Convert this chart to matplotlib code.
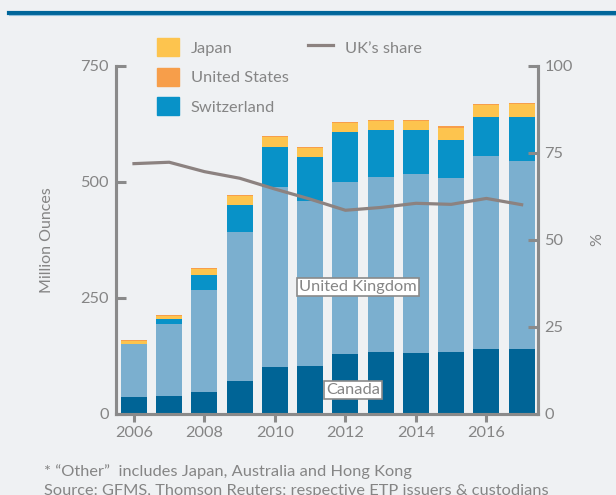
import numpy as np
import matplotlib
matplotlib.use('Agg')
import matplotlib.pyplot as plt
from matplotlib.patches import Patch
from matplotlib.lines import Line2D

# data (million ounces, stacked bottom -> top)
years = [2006, 2007, 2008, 2009, 2010, 2011, 2012, 2013, 2014, 2015, 2016, 2017]
canada = [36, 38, 47, 70, 101, 103, 129, 133, 131, 133, 139, 139]
united_kingdom = [113, 154, 220, 322, 388, 355, 370, 377, 386, 375, 415, 406]
switzerland = [1, 11, 32, 58, 86, 95, 107, 100, 93, 82, 86, 93]
japan = [7, 8, 13, 19, 21, 20, 21, 21, 21, 26, 24, 28]
united_states = [1, 1, 1, 1, 2, 2, 1, 2, 2, 3, 4, 4]
uk_share = [71.8, 72.2, 69.5, 67.6, 64.5, 61.6, 58.4, 59.2, 60.4, 60.1, 61.8, 60.0]

left_ticks = [0, 250, 500, 750]
right_ticks = [0, 25, 50, 75, 100]
x_ticks = [2006, 2008, 2010, 2012, 2014, 2016]

# colours
BG = '#eff1f3'
GREY = '#8a8a8a'
TEXT = '#858585'
C_CANADA = '#006496'
C_UK = '#7bafcf'
C_SWISS = '#0892c8'
C_JAPAN = '#fdc44e'
C_US = '#f79e4a'
C_LINE = '#8c8280'

FS = 11.8
plt.rcParams['font.family'] = ['Lato', 'DejaVu Sans']
plt.rcParams['font.size'] = FS

W, H = 616, 495
fig = plt.figure(figsize=(W / 100, H / 100), dpi=100, facecolor=BG)
ax = fig.add_axes([116 / W, 1 - 413.5 / H, (537.5 - 116) / W, (413.5 - 65.5) / H])
ax.set_facecolor(BG)

x = np.array(years)
bw = 0.74
bottom = np.zeros(len(years))
for vals, col in [(canada, C_CANADA), (united_kingdom, C_UK), (switzerland, C_SWISS),
                  (japan, C_JAPAN), (united_states, C_US)]:
    ax.bar(x, vals, bw, bottom=bottom, color=col, linewidth=0, zorder=2)
    bottom = bottom + np.array(vals)

ax.set_xlim(2005.49, 2017.45)
ax.set_ylim(0, 750)
ax.set_yticks(left_ticks)
ax.set_xticks(x_ticks)

ax2 = ax.twinx()
ax2.plot(x, uk_share, color=C_LINE, linewidth=2.3, zorder=3)
ax2.set_ylim(0, 100)
ax2.set_yticks(right_ticks)

## Lines
for a in (ax, ax2):
    a.spines['top'].set_visible(False)
    for s in ('left', 'right', 'bottom'):
        a.spines[s].set_color(GREY)
        a.spines[s].set_linewidth(2.2)
ax.tick_params(axis='y', direction='in', length=7, width=2.2, color=GREY,
               labelcolor=TEXT, labelsize=FS, pad=5)
ax.tick_params(axis='x', direction='out', length=6, width=2.2, color=GREY,
               labelcolor=TEXT, labelsize=FS, pad=3)
ax2.tick_params(axis='y', direction='in', length=7, width=2.2, color=GREY,
                labelcolor=TEXT, labelsize=FS, pad=5)

## Axis labels
fig.text(47 / W, 1 - 240 / H, 'Million Ounces', rotation=90, ha='center', va='center',
         color=TEXT, fontsize=11.5)
fig.text(597 / W, 1 - 240 / H, '%', rotation=90, ha='center', va='center',
         color=TEXT, fontsize=11.5)

## Labels inside bars
box = dict(boxstyle='square,pad=0.12', facecolor='white', edgecolor=GREY, linewidth=1.2)
ax.text(2012.36, 272, 'United Kingdom', ha='center', va='center', color=TEXT,
        fontsize=FS, bbox=box, zorder=5)
ax.text(2012.22, 51, 'Canada', ha='center', va='center', color=TEXT,
        fontsize=FS, bbox=box, zorder=5)

## Legends
handles = [Patch(color=C_JAPAN), Patch(color=C_US), Patch(color=C_SWISS)]
fig.legend(handles, ['Japan', 'United States', 'Switzerland'],
           loc='upper left', bbox_to_anchor=(157 / W, 1 - 38 / H),
           frameon=False, borderpad=0, borderaxespad=0, handlelength=1.35,
           handleheight=1.35, labelspacing=0.68, handletextpad=0.7,
           fontsize=FS, labelcolor=TEXT)
fig.legend([Line2D([0], [0], color=C_LINE, linewidth=2.3)], ["UK\u2019s share"],
           loc='upper left', bbox_to_anchor=(308 / W, 1 - 38 / H),
           frameon=False, borderpad=0, borderaxespad=0, handlelength=1.5,
           handleheight=1.35, handletextpad=0.75, fontsize=FS, labelcolor=TEXT)

## Header rule and footnotes
fig.add_artist(Line2D([9 / W, 1], [1 - 12.5 / H, 1 - 12.5 / H], color='#00669a',
                      linewidth=3, transform=fig.transFigure))
fig.add_artist(Line2D([9 / W, 1], [1 - 15 / H, 1 - 15 / H], color='#8fbedb',
                      linewidth=0.8, transform=fig.transFigure))
fig.text(44 / W, 1 - 472 / H, '* \u201cOther\u201d  includes Japan, Australia and Hong Kong',
         ha='left', va='center', color=TEXT, fontsize=11.8)
# the reference crops this line at the bottom edge
fig.text(44 / W, 1 - 484 / H, 'Source: GFMS, Thomson Reuters; respective ETP issuers & custodians',
         ha='left', va='top', color=TEXT, fontsize=11.8)

fig.savefig('out.png', dpi=100, facecolor=BG)
